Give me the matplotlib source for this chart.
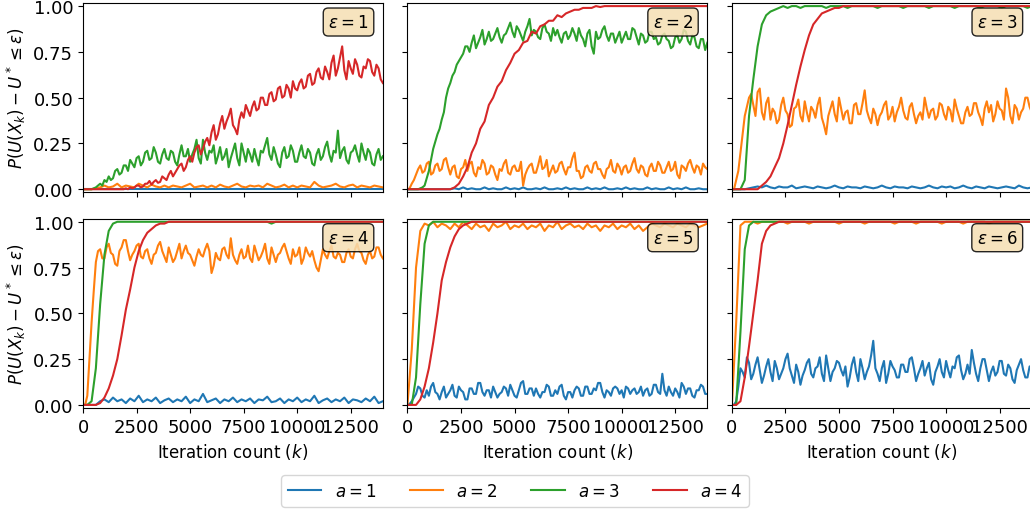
import matplotlib
matplotlib.use("Agg")
import matplotlib.pyplot as plt

# iteration counts (k) at which the probabilities are read
iters = list(range(0, 14001, 200))        # smooth / saturated curves
iters_fine = list(range(0, 14001, 100))   # very noisy curves

eps_values = [1, 2, 3, 4, 5, 6]
a_labels = ["$a = 1$", "$a = 2$", "$a = 3$", "$a = 4$"]

# ---- epsilon = 1
eps1_a1 = [0.0, 0.0, 0.0, 0.0, 0.0, 0.0, 0.0, 0.0, 0.0, 0.0,
           0.0, 0.0, 0.0, 0.0, 0.0, 0.0, 0.0, 0.0, 0.0, 0.0,
           0.0, 0.0, 0.0, 0.0, 0.0, 0.0, 0.0, 0.0, 0.0, 0.0,
           0.0, 0.0, 0.0, 0.0, 0.0, 0.0, 0.0, 0.0, 0.0, 0.0,
           0.0, 0.0, 0.0, 0.0, 0.0, 0.0, 0.0, 0.0, 0.0, 0.0,
           0.0, 0.0, 0.0, 0.0, 0.0, 0.0, 0.0, 0.0, 0.0, 0.0,
           0.0, 0.0, 0.0, 0.0, 0.0, 0.0, 0.0, 0.0, 0.0, 0.0, 0.0]
eps1_a2 = [0.0, 0.0, 0.0, 0.005, 0.01, 0.02, 0.01, 0.015, 0.03, 0.01,
           0.02, 0.015, 0.01, 0.03, 0.02, 0.01, 0.025, 0.015, 0.01, 0.02,
           0.01, 0.02, 0.015, 0.01, 0.02, 0.03, 0.01, 0.015, 0.02, 0.01,
           0.02, 0.01, 0.025, 0.015, 0.01, 0.02, 0.03, 0.015, 0.01, 0.02,
           0.015, 0.02, 0.01, 0.03, 0.02, 0.01, 0.015, 0.025, 0.01, 0.02,
           0.01, 0.02, 0.015, 0.01, 0.04, 0.02, 0.01, 0.015, 0.02, 0.03,
           0.015, 0.01, 0.02, 0.025, 0.01, 0.02, 0.015, 0.01, 0.02, 0.015, 0.01]
eps1_a3 = [0.0, 0.0, 0.0, 0.0, 0.0, 0.005, 0.01, 0.02, 0.03, 0.02,
           0.05, 0.04, 0.07, 0.05, 0.06, 0.1, 0.11, 0.08, 0.09, 0.13,
           0.13, 0.1, 0.16, 0.14, 0.12, 0.17, 0.18, 0.13, 0.15, 0.2,
           0.21, 0.16, 0.17, 0.23, 0.2, 0.15, 0.14, 0.19, 0.22, 0.17,
           0.16, 0.21, 0.2, 0.15, 0.13, 0.19, 0.24, 0.18, 0.18, 0.22,
           0.15, 0.19, 0.22, 0.27, 0.17, 0.14, 0.27, 0.2, 0.16, 0.21,
           0.2, 0.24, 0.14, 0.18, 0.23, 0.16, 0.18, 0.22, 0.12, 0.17,
           0.21, 0.25, 0.17, 0.13, 0.25, 0.2, 0.15, 0.22, 0.19, 0.15,
           0.22, 0.17, 0.13, 0.21, 0.2, 0.24, 0.28, 0.19, 0.16, 0.23,
           0.19, 0.14, 0.12, 0.2, 0.23, 0.17, 0.18, 0.24, 0.21, 0.15,
           0.15, 0.2, 0.24, 0.18, 0.17, 0.22, 0.2, 0.14, 0.13, 0.19,
           0.22, 0.16, 0.18, 0.23, 0.26, 0.19, 0.15, 0.21, 0.2, 0.32,
           0.17, 0.21, 0.23, 0.16, 0.14, 0.2, 0.21, 0.24, 0.19, 0.15,
           0.25, 0.2, 0.16, 0.22, 0.2, 0.14, 0.13, 0.19, 0.22, 0.16,
           0.18]
eps1_a4 = [0.0, 0.0, 0.0, 0.0, 0.0, 0.0, 0.0, 0.0, 0.0, 0.0,
           0.0, 0.0, 0.0, 0.0, 0.0, 0.0, 0.0, 0.0, 0.0, 0.0,
           0.005, 0.0, 0.01, 0.005, 0.01, 0.02, 0.02, 0.01, 0.015, 0.03,
           0.03, 0.045, 0.025, 0.04, 0.05, 0.035, 0.04, 0.07, 0.06, 0.05,
           0.08, 0.1, 0.07, 0.09, 0.11, 0.13, 0.14, 0.1, 0.12, 0.16,
           0.18, 0.15, 0.2, 0.23, 0.24, 0.19, 0.22, 0.26, 0.28, 0.24,
           0.31, 0.35, 0.27, 0.3, 0.36, 0.4, 0.33, 0.37, 0.4, 0.44,
           0.35, 0.33, 0.3, 0.38, 0.42, 0.39, 0.46, 0.43, 0.4, 0.45,
           0.48, 0.43, 0.44, 0.5, 0.5, 0.46, 0.46, 0.52, 0.53, 0.48,
           0.49, 0.55, 0.56, 0.5, 0.51, 0.57, 0.55, 0.5, 0.59, 0.55,
           0.54, 0.58, 0.6, 0.55, 0.56, 0.62, 0.63, 0.57, 0.58, 0.64,
           0.66, 0.61, 0.6, 0.67, 0.64, 0.6, 0.69, 0.73, 0.62, 0.66,
           0.72, 0.78, 0.65, 0.6, 0.7, 0.66, 0.63, 0.71, 0.68, 0.62,
           0.61, 0.67, 0.66, 0.71, 0.7, 0.64, 0.62, 0.68, 0.66, 0.6,
           0.58]

# ---- epsilon = 2
eps2_a1 = [0.0, 0.0, 0.0, 0.0, 0.0, 0.0, 0.0, 0.0, 0.0, 0.0,
           0.0, 0.005, 0.0, 0.01, 0.0, 0.005, 0.0, 0.0, 0.01, 0.0,
           0.005, 0.0, 0.0, 0.01, 0.0, 0.005, 0.0, 0.01, 0.0, 0.0,
           0.005, 0.0, 0.01, 0.0, 0.0, 0.005, 0.0, 0.01, 0.0, 0.005,
           0.0, 0.0, 0.01, 0.0, 0.005, 0.0, 0.01, 0.0, 0.0, 0.005,
           0.0, 0.01, 0.0, 0.005, 0.0, 0.0, 0.01, 0.0, 0.005, 0.0,
           0.0, 0.01, 0.0, 0.005, 0.0, 0.01, 0.0, 0.0, 0.005, 0.0, 0.0]
eps2_a2 = [0.0, 0.005, 0.03, 0.05, 0.08, 0.11, 0.13, 0.09, 0.1, 0.14,
           0.15, 0.08, 0.09, 0.13, 0.14, 0.1, 0.11, 0.16, 0.17, 0.12,
           0.08, 0.12, 0.13, 0.07, 0.06, 0.11, 0.12, 0.16, 0.1, 0.14,
           0.15, 0.09, 0.07, 0.12, 0.11, 0.16, 0.14, 0.08, 0.09, 0.13,
           0.12, 0.08, 0.05, 0.11, 0.1, 0.14, 0.16, 0.09, 0.08, 0.12,
           0.13, 0.1, 0.1, 0.15, 0.02, 0.08, 0.11, 0.13, 0.14, 0.09,
           0.09, 0.13, 0.18, 0.11, 0.12, 0.16, 0.07, 0.1, 0.13, 0.09,
           0.1, 0.14, 0.15, 0.11, 0.08, 0.12, 0.12, 0.17, 0.2, 0.1,
           0.1, 0.06, 0.07, 0.12, 0.13, 0.1, 0.09, 0.14, 0.15, 0.11,
           0.11, 0.08, 0.06, 0.11, 0.12, 0.16, 0.1, 0.09, 0.14, 0.12,
           0.08, 0.12, 0.13, 0.09, 0.1, 0.14, 0.17, 0.11, 0.09, 0.13,
           0.12, 0.08, 0.07, 0.12, 0.14, 0.1, 0.1, 0.15, 0.13, 0.09,
           0.09, 0.12, 0.15, 0.1, 0.11, 0.15, 0.08, 0.06, 0.13, 0.12,
           0.1, 0.14, 0.16, 0.12, 0.09, 0.13, 0.12, 0.08, 0.14, 0.12,
           0.11]
eps2_a3 = [0.0, 0.0, 0.0, 0.0, 0.0, 0.0, 0.005, 0.01, 0.02, 0.06,
           0.1, 0.16, 0.22, 0.26, 0.3, 0.33, 0.38, 0.42, 0.5, 0.55,
           0.58, 0.62, 0.64, 0.68, 0.7, 0.72, 0.74, 0.78, 0.78, 0.75,
           0.8, 0.84, 0.77, 0.8, 0.83, 0.87, 0.79, 0.82, 0.86, 0.81,
           0.82, 0.85, 0.88, 0.83, 0.8, 0.84, 0.85, 0.88, 0.91, 0.86,
           0.83, 0.89, 0.87, 0.84, 0.81, 0.86, 0.89, 0.93, 0.84, 0.87,
           0.86, 0.83, 0.82, 0.88, 0.9, 0.86, 0.85, 0.81, 0.88, 0.84,
           0.87, 0.83, 0.8, 0.85, 0.86, 0.82, 0.84, 0.88, 0.85, 0.81,
           0.88, 0.84, 0.82, 0.78, 0.85, 0.87, 0.78, 0.74, 0.86, 0.82,
           0.83, 0.87, 0.89, 0.84, 0.81, 0.85, 0.85, 0.8, 0.83, 0.86,
           0.8, 0.83, 0.86, 0.82, 0.82, 0.88, 0.87, 0.83, 0.79, 0.85,
           0.84, 0.8, 0.81, 0.86, 0.86, 0.82, 0.83, 0.79, 0.8, 0.84,
           0.85, 0.82, 0.81, 0.77, 0.78, 0.83, 0.84, 0.8, 0.82, 0.87,
           0.86, 0.81, 0.79, 0.84, 0.83, 0.78, 0.77, 0.82, 0.82, 0.76,
           0.8]
eps2_a4 = [0.0, 0.0, 0.0, 0.0, 0.0, 0.0, 0.0, 0.0, 0.0, 0.0,
           0.0, 0.01, 0.03, 0.07, 0.12, 0.2, 0.25, 0.33, 0.37, 0.46,
           0.5, 0.56, 0.59, 0.65, 0.69, 0.74, 0.76, 0.8, 0.81, 0.86,
           0.85, 0.89, 0.9, 0.92, 0.92, 0.95, 0.94, 0.96, 0.97, 0.98,
           0.98, 0.99, 0.99, 0.99, 1.0, 0.995, 1.0, 1.0, 1.0, 1.0,
           1.0, 1.0, 1.0, 1.0, 1.0, 1.0, 1.0, 1.0, 1.0, 1.0,
           1.0, 1.0, 1.0, 1.0, 1.0, 1.0, 1.0, 1.0, 1.0, 1.0, 1.0]

# ---- epsilon = 3
eps3_a1 = [0.0, 0.0, 0.0, 0.0, 0.005, 0.01, 0.015, 0.01, 0.02, 0.01,
           0.005, 0.015, 0.01, 0.01, 0.02, 0.005, 0.01, 0.015, 0.01, 0.005,
           0.015, 0.01, 0.005, 0.01, 0.02, 0.01, 0.005, 0.015, 0.01, 0.01,
           0.005, 0.015, 0.01, 0.005, 0.01, 0.02, 0.01, 0.005, 0.015, 0.01,
           0.01, 0.005, 0.015, 0.01, 0.005, 0.01, 0.02, 0.01, 0.005, 0.015,
           0.01, 0.015, 0.005, 0.01, 0.02, 0.01, 0.005, 0.015, 0.01, 0.005,
           0.015, 0.01, 0.005, 0.01, 0.015, 0.01, 0.005, 0.02, 0.01, 0.005, 0.01]
eps3_a2 = [0.0, 0.0, 0.05, 0.1, 0.2, 0.3, 0.4, 0.45, 0.5, 0.52,
           0.46, 0.4, 0.53, 0.55, 0.42, 0.38, 0.47, 0.5, 0.38, 0.44,
           0.42, 0.36, 0.38, 0.46, 0.5, 0.43, 0.41, 0.34, 0.35, 0.44,
           0.45, 0.49, 0.4, 0.37, 0.48, 0.42, 0.37, 0.45, 0.43, 0.39,
           0.46, 0.5, 0.39, 0.35, 0.3, 0.4, 0.44, 0.48, 0.41, 0.37,
           0.5, 0.44, 0.38, 0.42, 0.43, 0.36, 0.36, 0.46, 0.47, 0.41,
           0.41, 0.47, 0.54, 0.43, 0.39, 0.36, 0.44, 0.41, 0.35, 0.4,
           0.42, 0.46, 0.48, 0.38, 0.4, 0.45, 0.37, 0.42, 0.45, 0.5,
           0.43, 0.39, 0.38, 0.45, 0.47, 0.41, 0.36, 0.4, 0.42, 0.38,
           0.5, 0.44, 0.39, 0.43, 0.44, 0.38, 0.4, 0.47, 0.46, 0.41,
           0.38, 0.45, 0.43, 0.37, 0.49, 0.44, 0.4, 0.36, 0.36, 0.42,
           0.45, 0.4, 0.41, 0.47, 0.47, 0.42, 0.39, 0.35, 0.44, 0.48,
           0.42, 0.46, 0.37, 0.41, 0.48, 0.44, 0.43, 0.38, 0.55, 0.5,
           0.4, 0.36, 0.46, 0.44, 0.38, 0.42, 0.44, 0.5, 0.5, 0.45,
           0.42]
eps3_a3 = [0.0, 0.0, 0.0, 0.05, 0.4, 0.6, 0.78, 0.9, 0.95, 0.97,
           0.98, 0.99, 1.0, 0.99, 1.0, 1.0, 0.99, 1.0, 1.0, 1.0,
           1.0, 1.0, 0.99, 1.0, 1.0, 1.0, 1.0, 0.99, 1.0, 1.0,
           1.0, 1.0, 1.0, 1.0, 0.99, 1.0, 1.0, 1.0, 1.0, 1.0,
           0.99, 1.0, 1.0, 1.0, 1.0, 1.0, 0.99, 1.0, 1.0, 1.0,
           1.0, 1.0, 0.99, 1.0, 1.0, 1.0, 1.0, 1.0, 0.99, 1.0,
           1.0, 1.0, 1.0, 0.99, 1.0, 1.0, 1.0, 1.0, 1.0, 0.99, 1.0]
eps3_a4 = [0.0, 0.0, 0.0, 0.0, 0.0, 0.0, 0.0, 0.02, 0.04, 0.07,
           0.12, 0.17, 0.25, 0.35, 0.46, 0.57, 0.67, 0.76, 0.84, 0.9,
           0.93, 0.96, 0.97, 0.98, 0.99, 0.99, 1.0, 1.0, 1.0, 1.0,
           1.0, 1.0, 1.0, 1.0, 1.0, 1.0, 1.0, 1.0, 1.0, 1.0,
           1.0, 1.0, 1.0, 1.0, 1.0, 1.0, 1.0, 1.0, 1.0, 1.0,
           1.0, 1.0, 1.0, 1.0, 1.0, 1.0, 1.0, 1.0, 1.0, 1.0,
           1.0, 1.0, 1.0, 1.0, 1.0, 1.0, 1.0, 1.0, 1.0, 1.0, 1.0]

# ---- epsilon = 4
eps4_a1 = [0.0, 0.0, 0.0, 0.0, 0.02, 0.03, 0.015, 0.04, 0.02, 0.03,
           0.01, 0.035, 0.02, 0.05, 0.015, 0.03, 0.02, 0.04, 0.01, 0.025,
           0.035, 0.015, 0.03, 0.02, 0.045, 0.01, 0.03, 0.02, 0.06, 0.015,
           0.025, 0.035, 0.01, 0.03, 0.02, 0.04, 0.015, 0.03, 0.02, 0.035,
           0.01, 0.03, 0.025, 0.045, 0.015, 0.02, 0.035, 0.01, 0.03, 0.02,
           0.04, 0.015, 0.03, 0.02, 0.05, 0.01, 0.025, 0.035, 0.015, 0.03,
           0.02, 0.04, 0.01, 0.03, 0.025, 0.015, 0.035, 0.02, 0.045, 0.01, 0.02]
eps4_a2 = [0.0, 0.0, 0.05, 0.25, 0.45, 0.62, 0.78, 0.84, 0.85, 0.8,
           0.8, 0.86, 0.88, 0.83, 0.82, 0.77, 0.76, 0.84, 0.86, 0.9,
           0.9, 0.84, 0.79, 0.82, 0.84, 0.87, 0.88, 0.81, 0.8, 0.84,
           0.85, 0.8, 0.77, 0.82, 0.83, 0.87, 0.89, 0.84, 0.81, 0.78,
           0.86, 0.82, 0.78, 0.8, 0.84, 0.88, 0.8, 0.84, 0.87, 0.83,
           0.82, 0.79, 0.76, 0.81, 0.85, 0.82, 0.81, 0.85, 0.88, 0.84,
           0.72, 0.76, 0.83, 0.8, 0.79, 0.85, 0.86, 0.82, 0.8, 0.91,
           0.82, 0.79, 0.77, 0.82, 0.85, 0.8, 0.81, 0.87, 0.8, 0.78,
           0.87, 0.83, 0.79, 0.81, 0.84, 0.88, 0.8, 0.77, 0.86, 0.82,
           0.78, 0.82, 0.83, 0.86, 0.88, 0.84, 0.8, 0.77, 0.85, 0.81,
           0.82, 0.86, 0.77, 0.8, 0.86, 0.83, 0.81, 0.84, 0.79, 0.75,
           0.73, 0.79, 0.85, 0.82, 0.8, 0.84, 0.87, 0.81, 0.8, 0.83,
           0.82, 0.78, 0.78, 0.83, 0.85, 0.81, 0.8, 0.85, 0.88, 0.84,
           0.83, 0.79, 0.77, 0.82, 0.84, 0.8, 0.81, 0.86, 0.86, 0.82,
           0.8]
eps4_a3 = [0.0, 0.0, 0.02, 0.2, 0.55, 0.82, 0.95, 0.99, 1.0, 1.0,
           1.0, 1.0, 1.0, 1.0, 1.0, 1.0, 1.0, 1.0, 1.0, 1.0,
           1.0, 1.0, 1.0, 1.0, 1.0, 1.0, 1.0, 1.0, 1.0, 1.0,
           1.0, 1.0, 1.0, 1.0, 1.0, 1.0, 1.0, 1.0, 1.0, 1.0,
           1.0, 1.0, 1.0, 1.0, 0.99, 1.0, 1.0, 1.0, 1.0, 1.0,
           1.0, 1.0, 1.0, 1.0, 1.0, 1.0, 1.0, 1.0, 1.0, 1.0,
           1.0, 1.0, 1.0, 1.0, 1.0, 1.0, 1.0, 1.0, 1.0, 1.0, 1.0]
eps4_a4 = [0.0, 0.0, 0.0, 0.0, 0.01, 0.04, 0.09, 0.16, 0.25, 0.38,
           0.52, 0.63, 0.75, 0.84, 0.9, 0.94, 0.96, 0.98, 0.99, 0.99,
           1.0, 1.0, 1.0, 1.0, 1.0, 1.0, 1.0, 1.0, 1.0, 1.0,
           1.0, 1.0, 1.0, 1.0, 1.0, 1.0, 1.0, 1.0, 1.0, 1.0,
           1.0, 1.0, 1.0, 1.0, 1.0, 1.0, 1.0, 1.0, 1.0, 1.0,
           1.0, 1.0, 1.0, 1.0, 1.0, 1.0, 1.0, 1.0, 1.0, 1.0,
           1.0, 1.0, 1.0, 1.0, 1.0, 1.0, 1.0, 1.0, 1.0, 1.0, 1.0]

# ---- epsilon = 5
eps5_a1 = [0.0, 0.005, 0.02, 0.04, 0.06, 0.1, 0.09, 0.05, 0.04, 0.08,
           0.05, 0.1, 0.12, 0.07, 0.06, 0.03, 0.07, 0.1, 0.04, 0.06,
           0.08, 0.11, 0.05, 0.04, 0.1, 0.08, 0.07, 0.03, 0.03, 0.09,
           0.09, 0.06, 0.06, 0.12, 0.12, 0.07, 0.05, 0.08, 0.08, 0.04,
           0.1, 0.07, 0.04, 0.06, 0.07, 0.1, 0.09, 0.05, 0.11, 0.08,
           0.05, 0.04, 0.08, 0.12, 0.13, 0.06, 0.06, 0.09, 0.09, 0.05,
           0.09, 0.06, 0.04, 0.07, 0.07, 0.11, 0.1, 0.05, 0.05, 0.08,
           0.06, 0.1, 0.11, 0.05, 0.03, 0.07, 0.07, 0.04, 0.08, 0.1,
           0.09, 0.05, 0.05, 0.1, 0.1, 0.06, 0.06, 0.09, 0.08, 0.12,
           0.12, 0.07, 0.04, 0.08, 0.07, 0.05, 0.09, 0.1, 0.09, 0.06,
           0.08, 0.04, 0.1, 0.09, 0.06, 0.08, 0.09, 0.06, 0.07, 0.1,
           0.05, 0.08, 0.09, 0.05, 0.06, 0.11, 0.11, 0.07, 0.06, 0.17,
           0.08, 0.05, 0.1, 0.07, 0.05, 0.09, 0.07, 0.04, 0.12, 0.1,
           0.06, 0.09, 0.09, 0.05, 0.04, 0.08, 0.08, 0.11, 0.1, 0.06,
           0.06]
eps5_a2 = [0.0, 0.3, 0.75, 0.95, 0.99, 0.98, 1.0, 0.97, 0.99, 0.98,
           0.96, 0.99, 0.97, 1.0, 0.98, 0.96, 0.99, 0.97, 0.98, 0.95,
           0.99, 0.97, 0.98, 1.0, 0.96, 0.98, 0.97, 0.99, 0.96, 0.98,
           0.97, 0.99, 0.95, 0.98, 0.97, 1.0, 0.96, 0.98, 0.99, 0.97,
           0.98, 0.96, 0.99, 0.97, 0.98, 0.95, 0.98, 0.97, 0.99, 0.96,
           0.98, 0.97, 0.99, 0.96, 0.98, 0.95, 0.97, 0.99, 0.98, 0.97,
           0.99, 0.98, 0.97, 0.99, 0.98, 0.97, 0.99, 0.98, 0.97, 0.98, 0.99]
eps5_a3 = [0.0, 0.0, 0.15, 0.55, 0.88, 0.98, 1.0, 1.0, 1.0, 1.0,
           1.0, 1.0, 1.0, 1.0, 1.0, 1.0, 1.0, 1.0, 1.0, 1.0,
           1.0, 1.0, 1.0, 1.0, 1.0, 1.0, 1.0, 1.0, 1.0, 1.0,
           1.0, 1.0, 1.0, 1.0, 1.0, 1.0, 1.0, 1.0, 1.0, 1.0,
           1.0, 1.0, 1.0, 1.0, 1.0, 1.0, 1.0, 1.0, 1.0, 1.0,
           1.0, 1.0, 1.0, 1.0, 1.0, 1.0, 1.0, 1.0, 1.0, 1.0,
           1.0, 1.0, 1.0, 1.0, 1.0, 1.0, 1.0, 1.0, 1.0, 1.0, 1.0]
eps5_a4 = [0.0, 0.0, 0.0, 0.03, 0.1, 0.2, 0.34, 0.5, 0.68, 0.78,
           0.86, 0.92, 0.96, 0.98, 0.99, 1.0, 1.0, 1.0, 1.0, 1.0,
           1.0, 1.0, 1.0, 1.0, 1.0, 1.0, 1.0, 1.0, 1.0, 1.0,
           1.0, 1.0, 1.0, 1.0, 1.0, 1.0, 1.0, 1.0, 1.0, 1.0,
           1.0, 1.0, 1.0, 1.0, 1.0, 1.0, 1.0, 1.0, 1.0, 1.0,
           1.0, 1.0, 1.0, 1.0, 1.0, 1.0, 1.0, 1.0, 1.0, 1.0,
           1.0, 1.0, 1.0, 1.0, 1.0, 1.0, 1.0, 1.0, 1.0, 1.0, 1.0]

# ---- epsilon = 6
eps6_a1 = [0.0, 0.0, 0.02, 0.1, 0.2, 0.18, 0.15, 0.26, 0.23, 0.14,
           0.17, 0.22, 0.26, 0.19, 0.12, 0.16, 0.21, 0.25, 0.18, 0.13,
           0.24, 0.2, 0.14, 0.17, 0.2, 0.25, 0.28, 0.2, 0.16, 0.12,
           0.22, 0.18, 0.11, 0.16, 0.19, 0.23, 0.25, 0.17, 0.15, 0.2,
           0.21, 0.26, 0.17, 0.13, 0.27, 0.2, 0.13, 0.18, 0.2, 0.24,
           0.23, 0.19, 0.16, 0.21, 0.1, 0.15, 0.22, 0.26, 0.18, 0.13,
           0.25, 0.2, 0.14, 0.18, 0.21, 0.27, 0.35, 0.2, 0.17, 0.13,
           0.2, 0.24, 0.12, 0.17, 0.24, 0.21, 0.19, 0.15, 0.15, 0.22,
           0.22, 0.18, 0.18, 0.25, 0.26, 0.2, 0.13, 0.17, 0.2, 0.24,
           0.16, 0.2, 0.23, 0.14, 0.11, 0.18, 0.21, 0.25, 0.18, 0.15,
           0.24, 0.19, 0.15, 0.21, 0.2, 0.26, 0.27, 0.19, 0.14, 0.17,
           0.22, 0.17, 0.3, 0.23, 0.17, 0.13, 0.2, 0.25, 0.25, 0.19,
           0.13, 0.18, 0.21, 0.16, 0.18, 0.24, 0.24, 0.17, 0.16, 0.22,
           0.2, 0.14, 0.12, 0.19, 0.22, 0.25, 0.19, 0.15, 0.15, 0.21,
           0.21]
eps6_a2 = [0.0, 0.45, 0.98, 1.0, 1.0, 1.0, 0.99, 1.0, 1.0, 1.0,
           1.0, 1.0, 1.0, 0.99, 1.0, 1.0, 1.0, 1.0, 0.99, 1.0,
           1.0, 1.0, 1.0, 1.0, 1.0, 0.99, 1.0, 1.0, 1.0, 1.0,
           1.0, 0.99, 1.0, 1.0, 1.0, 1.0, 1.0, 1.0, 0.99, 1.0,
           1.0, 1.0, 1.0, 0.99, 1.0, 1.0, 1.0, 1.0, 1.0, 0.99,
           1.0, 1.0, 1.0, 1.0, 0.99, 1.0, 1.0, 1.0, 1.0, 1.0,
           0.99, 1.0, 1.0, 1.0, 1.0, 1.0, 1.0, 1.0, 1.0, 1.0, 1.0]
eps6_a3 = [0.0, 0.0, 0.4, 0.85, 0.98, 1.0, 1.0, 1.0, 1.0, 1.0,
           1.0, 1.0, 1.0, 1.0, 1.0, 1.0, 1.0, 1.0, 1.0, 1.0,
           1.0, 1.0, 1.0, 1.0, 1.0, 1.0, 1.0, 1.0, 1.0, 1.0,
           1.0, 1.0, 1.0, 1.0, 1.0, 1.0, 1.0, 1.0, 1.0, 1.0,
           1.0, 1.0, 1.0, 1.0, 1.0, 1.0, 1.0, 1.0, 1.0, 1.0,
           1.0, 1.0, 1.0, 1.0, 1.0, 1.0, 1.0, 1.0, 1.0, 1.0,
           1.0, 1.0, 1.0, 1.0, 1.0, 1.0, 1.0, 1.0, 1.0, 1.0, 1.0]
eps6_a4 = [0.0, 0.0, 0.02, 0.15, 0.32, 0.5, 0.68, 0.88, 0.95, 0.98,
           0.99, 1.0, 1.0, 1.0, 1.0, 1.0, 1.0, 1.0, 1.0, 1.0,
           1.0, 1.0, 1.0, 1.0, 1.0, 1.0, 1.0, 1.0, 1.0, 1.0,
           1.0, 1.0, 1.0, 1.0, 1.0, 1.0, 1.0, 1.0, 1.0, 1.0,
           1.0, 1.0, 1.0, 1.0, 1.0, 1.0, 1.0, 1.0, 1.0, 1.0,
           1.0, 1.0, 1.0, 1.0, 1.0, 1.0, 1.0, 1.0, 1.0, 1.0,
           1.0, 1.0, 1.0, 1.0, 1.0, 1.0, 1.0, 1.0, 1.0, 1.0, 1.0]

panels = [
    [eps1_a1, eps1_a2, eps1_a3, eps1_a4],
    [eps2_a1, eps2_a2, eps2_a3, eps2_a4],
    [eps3_a1, eps3_a2, eps3_a3, eps3_a4],
    [eps4_a1, eps4_a2, eps4_a3, eps4_a4],
    [eps5_a1, eps5_a2, eps5_a3, eps5_a4],
    [eps6_a1, eps6_a2, eps6_a3, eps6_a4],
]
colors = ["tab:blue", "tab:orange", "tab:green", "tab:red"]

fig, axes = plt.subplots(2, 3, figsize=(10.3, 5.1), dpi=100, sharex=True, sharey=True)
fig.subplots_adjust(left=0.0806, right=1.0017, top=0.9922, bottom=0.198,
                    wspace=0.082, hspace=0.139)

for idx, ax in enumerate(axes.flat):
    for vals, col, lab in zip(panels[idx], colors, a_labels):
        xs = iters_fine if len(vals) == len(iters_fine) else iters
        ax.plot(xs, vals, color=col, lw=1.5, label=lab)
    ax.text(0.953, 0.947, r"$\varepsilon = %d$" % eps_values[idx], transform=ax.transAxes,
            ha="right", va="top", fontsize=12,
            bbox=dict(boxstyle="round", facecolor="wheat", alpha=0.85))
    ax.set_xlim(0, 14000)
    ax.set_ylim(-0.017, 1.017)
    ax.set_xticks([0, 2500, 5000, 7500, 10000, 12500])
    ax.set_yticks([0.0, 0.25, 0.5, 0.75, 1.0])
    ax.set_yticklabels(["0.00", "0.25", "0.50", "0.75", "1.00"])
    ax.tick_params(labelsize=13)

for ax in axes[1]:
    ax.set_xlabel("Iteration count ($k$)", fontsize=12)
for ax in axes[:, 0]:
    ax.set_ylabel(r"$P(U(X_k) - U^* \leq \varepsilon)$", fontsize=12)

handles, labels = axes[0, 0].get_legend_handles_labels()
fig.legend(handles, labels, loc="lower center", bbox_to_anchor=(0.5, 0.0),
           ncol=4, fontsize=12, columnspacing=2.0, borderaxespad=0.15)

fig.savefig("out.png", dpi=100)
